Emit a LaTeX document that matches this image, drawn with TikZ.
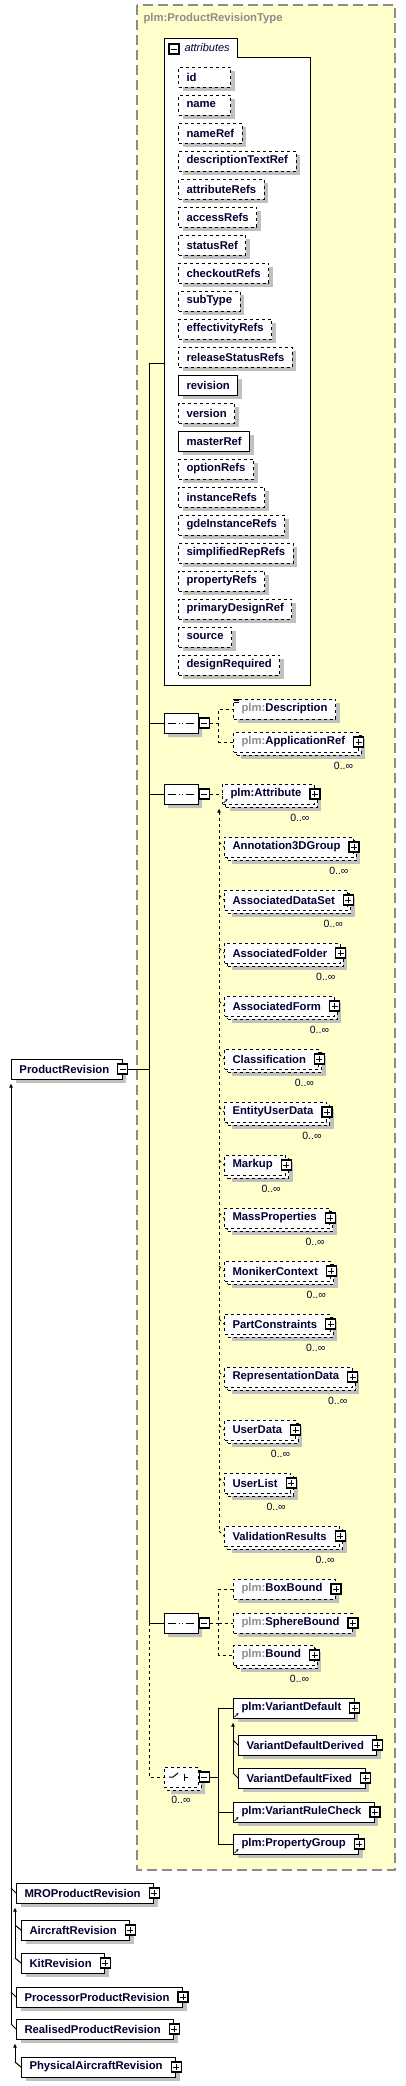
\documentclass[tikz,border=0pt]{standalone}
\usepackage{fontspec}
\setmainfont{Liberation Sans}
\usetikzlibrary{arrows.meta,shadows,shapes.misc}

\definecolor{typeyellow}{HTML}{FFFFCC}
\definecolor{framegray}{HTML}{8C8C8C}
\definecolor{nsgray}{HTML}{8C8C8C}
\definecolor{shadowgray}{HTML}{C0C0C0}
\definecolor{ink}{HTML}{000033}

\newcommand{\ns}{\textcolor{nsgray}{plm:}}
\newcommand{\attxt}[1]{\setbox0\hbox{#1}\ifdim\wd0<36pt\hbox to 36pt{\box0\hss}\else\box0\fi}

\tikzset{
  lbl/.style={font=\fontsize{11.3}{13}\selectfont\bfseries, text=ink},
  box/.style={lbl, draw, fill=white, anchor=west, minimum height=20pt, inner xsep=8pt, inner ysep=0pt},
  single/.style={box, drop shadow={shadow xshift=4pt, shadow yshift=-4pt, fill=shadowgray, opacity=1, draw=none}},
  multi/.style={box,
    drop shadow={shadow xshift=7pt, shadow yshift=-7pt, fill=shadowgray, opacity=1, draw=none},
    copy shadow={shadow xshift=3pt, shadow yshift=-3pt, draw, fill=white, #1},
    label={[mult, anchor=north east, xshift=-5pt, yshift=-9pt]south east:0..∞}},
  multi/.default={},
  attr/.style={single},
  opt/.style={dashed},
  req/.style={solid},
  mult/.style={font=\fontsize{10.5}{12}\selectfont, text=ink, inner sep=0pt},
  tog/.style={draw=black, solid, line width=1.2pt, fill=white, minimum size=10pt, inner sep=0pt, anchor=center},
  pbox/.style={tog, path picture={
      \draw[solid, line width=0.9pt] ([xshift=2pt]path picture bounding box.west) -- ([xshift=-2pt]path picture bounding box.east);
      \draw[solid, line width=0.9pt] ([yshift=-2pt]path picture bounding box.north) -- ([yshift=2pt]path picture bounding box.south);}},
  mbox/.style={tog, path picture={
      \draw[solid, line width=0.9pt] ([xshift=2pt]path picture bounding box.west) -- ([xshift=-2pt]path picture bounding box.east);}},
  plus/.style={label={[pbox]east:{}}, execute at end node={\hspace*{5pt}}},
  minus/.style={label={[mbox, name=#1]east:{}}, execute at end node={\hspace*{5pt}}},
  grp/.style={chamfered rectangle, chamfered rectangle xsep=5pt, draw, fill=white,
    minimum width=34pt, minimum height=20pt, inner sep=0pt, anchor=center},
  seq/.style={grp, drop shadow={shadow xshift=4pt, shadow yshift=-4pt, fill=shadowgray, opacity=1, draw=none},
    label={[mbox, anchor=west, name=#1]east:{}},
    path picture={
      \draw[solid] ([xshift=4pt]path picture bounding box.west) -- ([xshift=-4pt]path picture bounding box.east);
      \foreach \d in {-3.5,0,3.5} \fill ([xshift=\d pt-1.3pt, yshift=-1.3pt]path picture bounding box.center) rectangle ++(2.6pt,2.6pt);}},
  chc/.style={grp, dashed,
    drop shadow={shadow xshift=7pt, shadow yshift=-7pt, fill=shadowgray, opacity=1, draw=none},
    copy shadow={shadow xshift=3pt, shadow yshift=-3pt, draw, fill=white, dashed},
    label={[mbox, anchor=west, name=#1]east:{}},
    label={[mult, yshift=-8pt]south:0..∞},
    path picture={
      \coordinate (cc) at (path picture bounding box.center);
      \draw[solid] ([xshift=-12pt]cc) -- ([xshift=-8pt]cc) -- ([xshift=-3pt, yshift=4pt]cc);
      \foreach \d in {-3.5,0,3.5} \fill ([xshift=-1pt, yshift=\d pt-1.2pt]cc) rectangle ++(2.6pt,2.6pt);
      \draw[solid] ([xshift=3pt, yshift=3.5pt]cc) -- ([xshift=3pt, yshift=-3.5pt]cc);
      \draw[solid] ([xshift=3pt]cc) -- ([xshift=7pt]cc);}},
  subarrow/.style={{Latex[length=4pt, width=4pt]}-},
}

\begin{document}
\begin{tikzpicture}[x=1pt, y=-1pt, line width=1pt]
\useasboundingbox (0,0) rectangle (405,2086);

% complex type frame
\draw[framegray, fill=typeyellow, line width=1.3pt, dash pattern=on 10pt off 5pt] (137,5) rectangle (395,1870);
\node[lbl, text=nsgray, anchor=west, inner sep=0pt] (typename) at (143,19) {plm:ProductRevisionType};

% attributes container
\draw[fill=white] (164,685) -- (164,38) -- (237,38) -- (237,57) -- (310,57) -- (310,685) -- cycle;
\node[mbox] (atttog) at (174,49) {};
\node[anchor=west, inner sep=0pt, text=ink, font=\fontsize{11}{13}\selectfont\itshape] (atttitle) at (184,48) {attributes};
\foreach \a/\k [count=\i from 0] in {id/opt, name/opt, nameRef/opt, descriptionTextRef/opt, attributeRefs/opt,
    accessRefs/opt, statusRef/opt, checkoutRefs/opt, subType/opt, effectivityRefs/opt, releaseStatusRefs/opt,
    revision/req, version/opt, masterRef/req, optionRefs/opt, instanceRefs/opt, gdeInstanceRefs/opt,
    simplifiedRepRefs/opt, propertyRefs/opt, primaryDesignRef/opt, source/opt, designRequired/opt}
  \node[attr, \k] (att-\a) at (178,77+28*\i) {\attxt{\a}};

% root element
\node[single, minus=rootm] (root) at (11,1069) {ProductRevision};

% main sequence spine
\coordinate (spinetop) at (149,363);
\coordinate (attin) at (164,363);
\coordinate (spinemid) at (149,1623);
\coordinate (spineend) at (149,1777);

% model groups
\node[seq=s1m] (s1) at (181,723) {};
\node[seq=s2m] (s2) at (181,794) {};
\node[seq=s3m] (s3) at (181,1623) {};
\node[chc=s4m] (s4) at (181,1777) {};

% elements
\node[single, opt] (desc) at (233,709) {\ns Description};
\node[multi=dashed, opt, plus] (appref) at (233,742) {\ns ApplicationRef};
\node[multi=dashed, opt, plus] (attr) at (222,794) {plm:Attribute};
\foreach \m [count=\i from 0] in {Annotation3DGroup, AssociatedDataSet, AssociatedFolder, AssociatedForm,
    Classification, EntityUserData, Markup, MassProperties, MonikerContext, PartConstraints,
    RepresentationData, UserData, UserList, ValidationResults} {
  \node[multi=dashed, opt, plus] (sub-\m) at (224,847+53*\i) {\m};
  \draw[dashed] ([xshift=-5pt, yshift=5pt]sub-\m.west) -- (sub-\m.west);
}
\node[single, opt, plus] (boxb) at (233,1589) {\ns BoxBound};
\node[single, opt, plus] (sphb) at (233,1623) {\ns SphereBound};
\node[multi=dashed, opt, plus] (bnd) at (233,1655) {\ns Bound};
\node[single, plus] (vdef) at (233,1708) {plm:VariantDefault};
\node[single, plus] (vdder) at (238,1745) {VariantDefaultDerived};
\node[single, plus] (vdfix) at (238,1778) {VariantDefaultFixed};
\node[single, plus] (vrule) at (233,1812) {plm:VariantRuleCheck};
\node[single, plus] (pgrp) at (233,1844) {plm:PropertyGroup};

% derived types
\node[single, plus] (mro) at (16,1893) {MROProductRevision};
\node[single, plus] (acrev) at (21,1930) {AircraftRevision};
\node[single, plus] (kitrev) at (21,1963) {KitRevision};
\node[single, plus] (procrev) at (16,1997) {ProcessorProductRevision};
\node[single, plus] (realrev) at (16,2029) {RealisedProductRevision};
\node[single, plus] (physrev) at (21,2067) {PhysicalAircraftRevision};

% spine connectors
\draw (rootm.east) -- (rootm.east -| spinetop);
\draw (spinetop) -- (attin);
\draw (spinetop) -- (spinemid);
\draw[dashed] (spinemid) -- (spineend) -- (s4.west);
\draw (spinetop |- s1.west) -- (s1.west);
\draw (spinetop |- s2.west) -- (s2.west);
\draw (spinemid) -- (s3.west);

% group branches
\draw[dashed] (s1m.east) -- ++(9,0) coordinate (b1) |- (desc.west);
\draw[dashed] (b1) |- (appref.west);
\draw[dashed] (s2m.east) -- (attr.west);
\draw[dashed] (s3m.east) -- ++(9,0) coordinate (b3) |- (boxb.west);
\draw[dashed] (b3) -- (sphb.west);
\draw[dashed] (b3) |- (bnd.west);
\draw (s4m.east) -- ++(9,0) coordinate (b4) |- (vdef.west);
\draw (b4) |- (vrule.west);
\draw (b4) |- (pgrp.west);

% substitution groups
\draw[dashed, subarrow] ([xshift=-3pt, yshift=-4pt]attr.south west) -- ([xshift=-5pt, yshift=5pt]sub-ValidationResults.west);
\draw[subarrow] ([yshift=-4pt]vdef.south west) -- ([xshift=-5pt, yshift=5pt]vdfix.west);
\foreach \v in {vdder, vdfix} \draw ([xshift=-5pt, yshift=5pt]\v.west) -- (\v.west);

% derivations
\draw[subarrow] ([yshift=-4pt]root.south west) -- ([xshift=-5pt, yshift=5pt]realrev.west);
\foreach \d in {mro, procrev, realrev} \draw ([xshift=-5pt, yshift=5pt]\d.west) -- (\d.west);
\draw[subarrow] ([xshift=-1pt, yshift=-4pt]mro.south west) -- ([xshift=-6pt, yshift=5pt]kitrev.west);
\foreach \d in {acrev, kitrev} \draw ([xshift=-6pt, yshift=5pt]\d.west) -- (\d.west);
\draw[subarrow] ([xshift=-1pt, yshift=-4pt]realrev.south west) -- ([xshift=-6pt, yshift=5pt]physrev.west);
\draw ([xshift=-6pt, yshift=5pt]physrev.west) -- (physrev.west);

% reference marks and documentation mark
\foreach \r in {attr, vdef, vrule, pgrp}
  \draw[-{Stealth[length=2.5pt, width=2.5pt]}, line width=0.7pt] ([xshift=1.5pt, yshift=1.5pt]\r.south west) -- ++(4pt,4pt);
\foreach \k in {0,1,2}
  \draw[line width=0.5pt] ([xshift=1pt, yshift=-\k*1.6pt-0.5pt]desc.north west) -- ++(5pt,0pt);
\end{tikzpicture}
\end{document}
